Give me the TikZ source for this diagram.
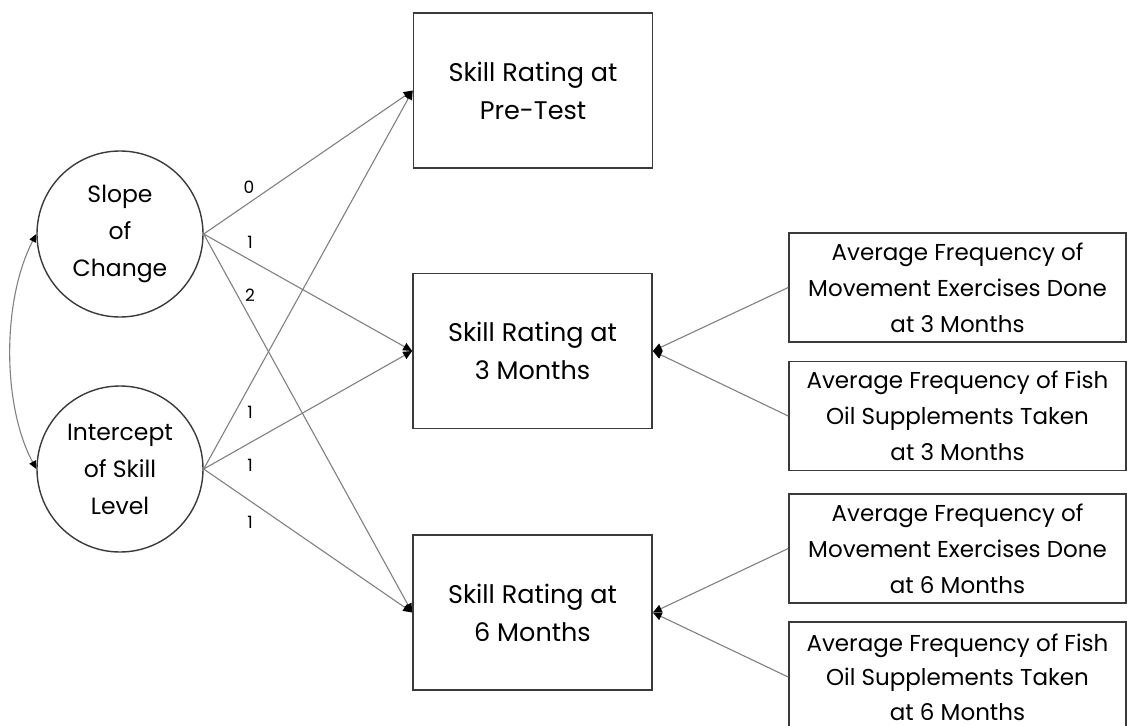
\documentclass[tikz,border=0pt]{standalone}
\usepackage{fontspec}
\setmainfont{Poppins}
\usetikzlibrary{arrows.meta}
\definecolor{linegray}{HTML}{808080}
\definecolor{boxline}{HTML}{3A3A3A}
\begin{document}
\begin{tikzpicture}[x=1pt,y=-1pt,
  every node/.style={text=black},
  latent/.style={circle, draw=boxline, line width=1.4pt, minimum size=166pt, inner sep=0pt, align=center, font=\fontsize{23.5}{37}\selectfont},
  obsbox/.style={rectangle, draw=boxline, line width=1.6pt, minimum width=239pt, minimum height=155pt, inner sep=0pt, align=center, font=\fontsize{25.5}{38}\selectfont},
  covbox/.style={rectangle, draw=boxline, line width=1.6pt, minimum width=337pt, minimum height=109pt, inner sep=0pt, align=center, font=\fontsize{23}{36}\selectfont},
  path/.style={draw=linegray, line width=1.1pt, -{Triangle[length=9pt,width=8pt,color=black]}},
  cov/.style={draw=linegray, line width=1.1pt, {Triangle[length=8pt,width=7pt,color=black]}-{Triangle[length=8pt,width=7pt,color=black]}},
  lab/.style={font=\fontsize{17}{19}\selectfont, inner sep=0pt}
]
\useasboundingbox (0,0) rectangle (1128,726);

\node[latent] (slope) at (120,234) {Slope\\of\\Change};
\node[latent] (icpt) at (120,469) {Intercept\\of Skill\\Level};

\node[obsbox] (pre) at (533,90.5) {Skill Rating at\\Pre-Test};
\node[obsbox] (m3) at (532.5,351) {Skill Rating at\\3 Months};
\node[obsbox] (m6) at (532.5,612.5) {Skill Rating at\\6 Months};

\node[covbox] (ex3) at (957.5,287.5) {Average Frequency of\\Movement Exercises Done\\at 3 Months};
\node[covbox] (fo3) at (957.5,416) {Average Frequency of Fish\\Oil Supplements Taken\\at 3 Months};
\node[covbox] (ex6) at (957.5,548.5) {Average Frequency of\\Movement Exercises Done\\at 6 Months};
\node[covbox, minimum height=110pt, font=\fontsize{23}{34.5}\selectfont] (fo6) at (957.5,677) {Average Frequency of Fish\\Oil Supplements Taken\\at 6 Months};

\draw[path] (slope.east) -- (pre.west);
\draw[path] (slope.east) -- (m3.west);
\draw[path] (slope.east) -- (m6.west);
\draw[path] (icpt.east) -- (pre.west);
\draw[path] (icpt.east) -- (m3.west);
\draw[path] (icpt.east) -- (m6.west);

\draw[path] (ex3.west) -- (m3.east);
\draw[path] (fo3.west) -- (m3.east);
\draw[path] (ex6.west) -- (m6.east);
\draw[path] (fo6.west) -- (m6.east);

\draw[cov] (slope.west) .. controls (2,300) and (2,405) .. (icpt.west);

\node[lab] (l0) at (249,187) {0};
\node[lab] (l1) at (250,242) {1};
\node[lab] (l2) at (250,295) {2};
\node[lab] (l3) at (250,412) {1};
\node[lab] (l4) at (250,465) {1};
\node[lab] (l5) at (250,522) {1};
\end{tikzpicture}
\end{document}
